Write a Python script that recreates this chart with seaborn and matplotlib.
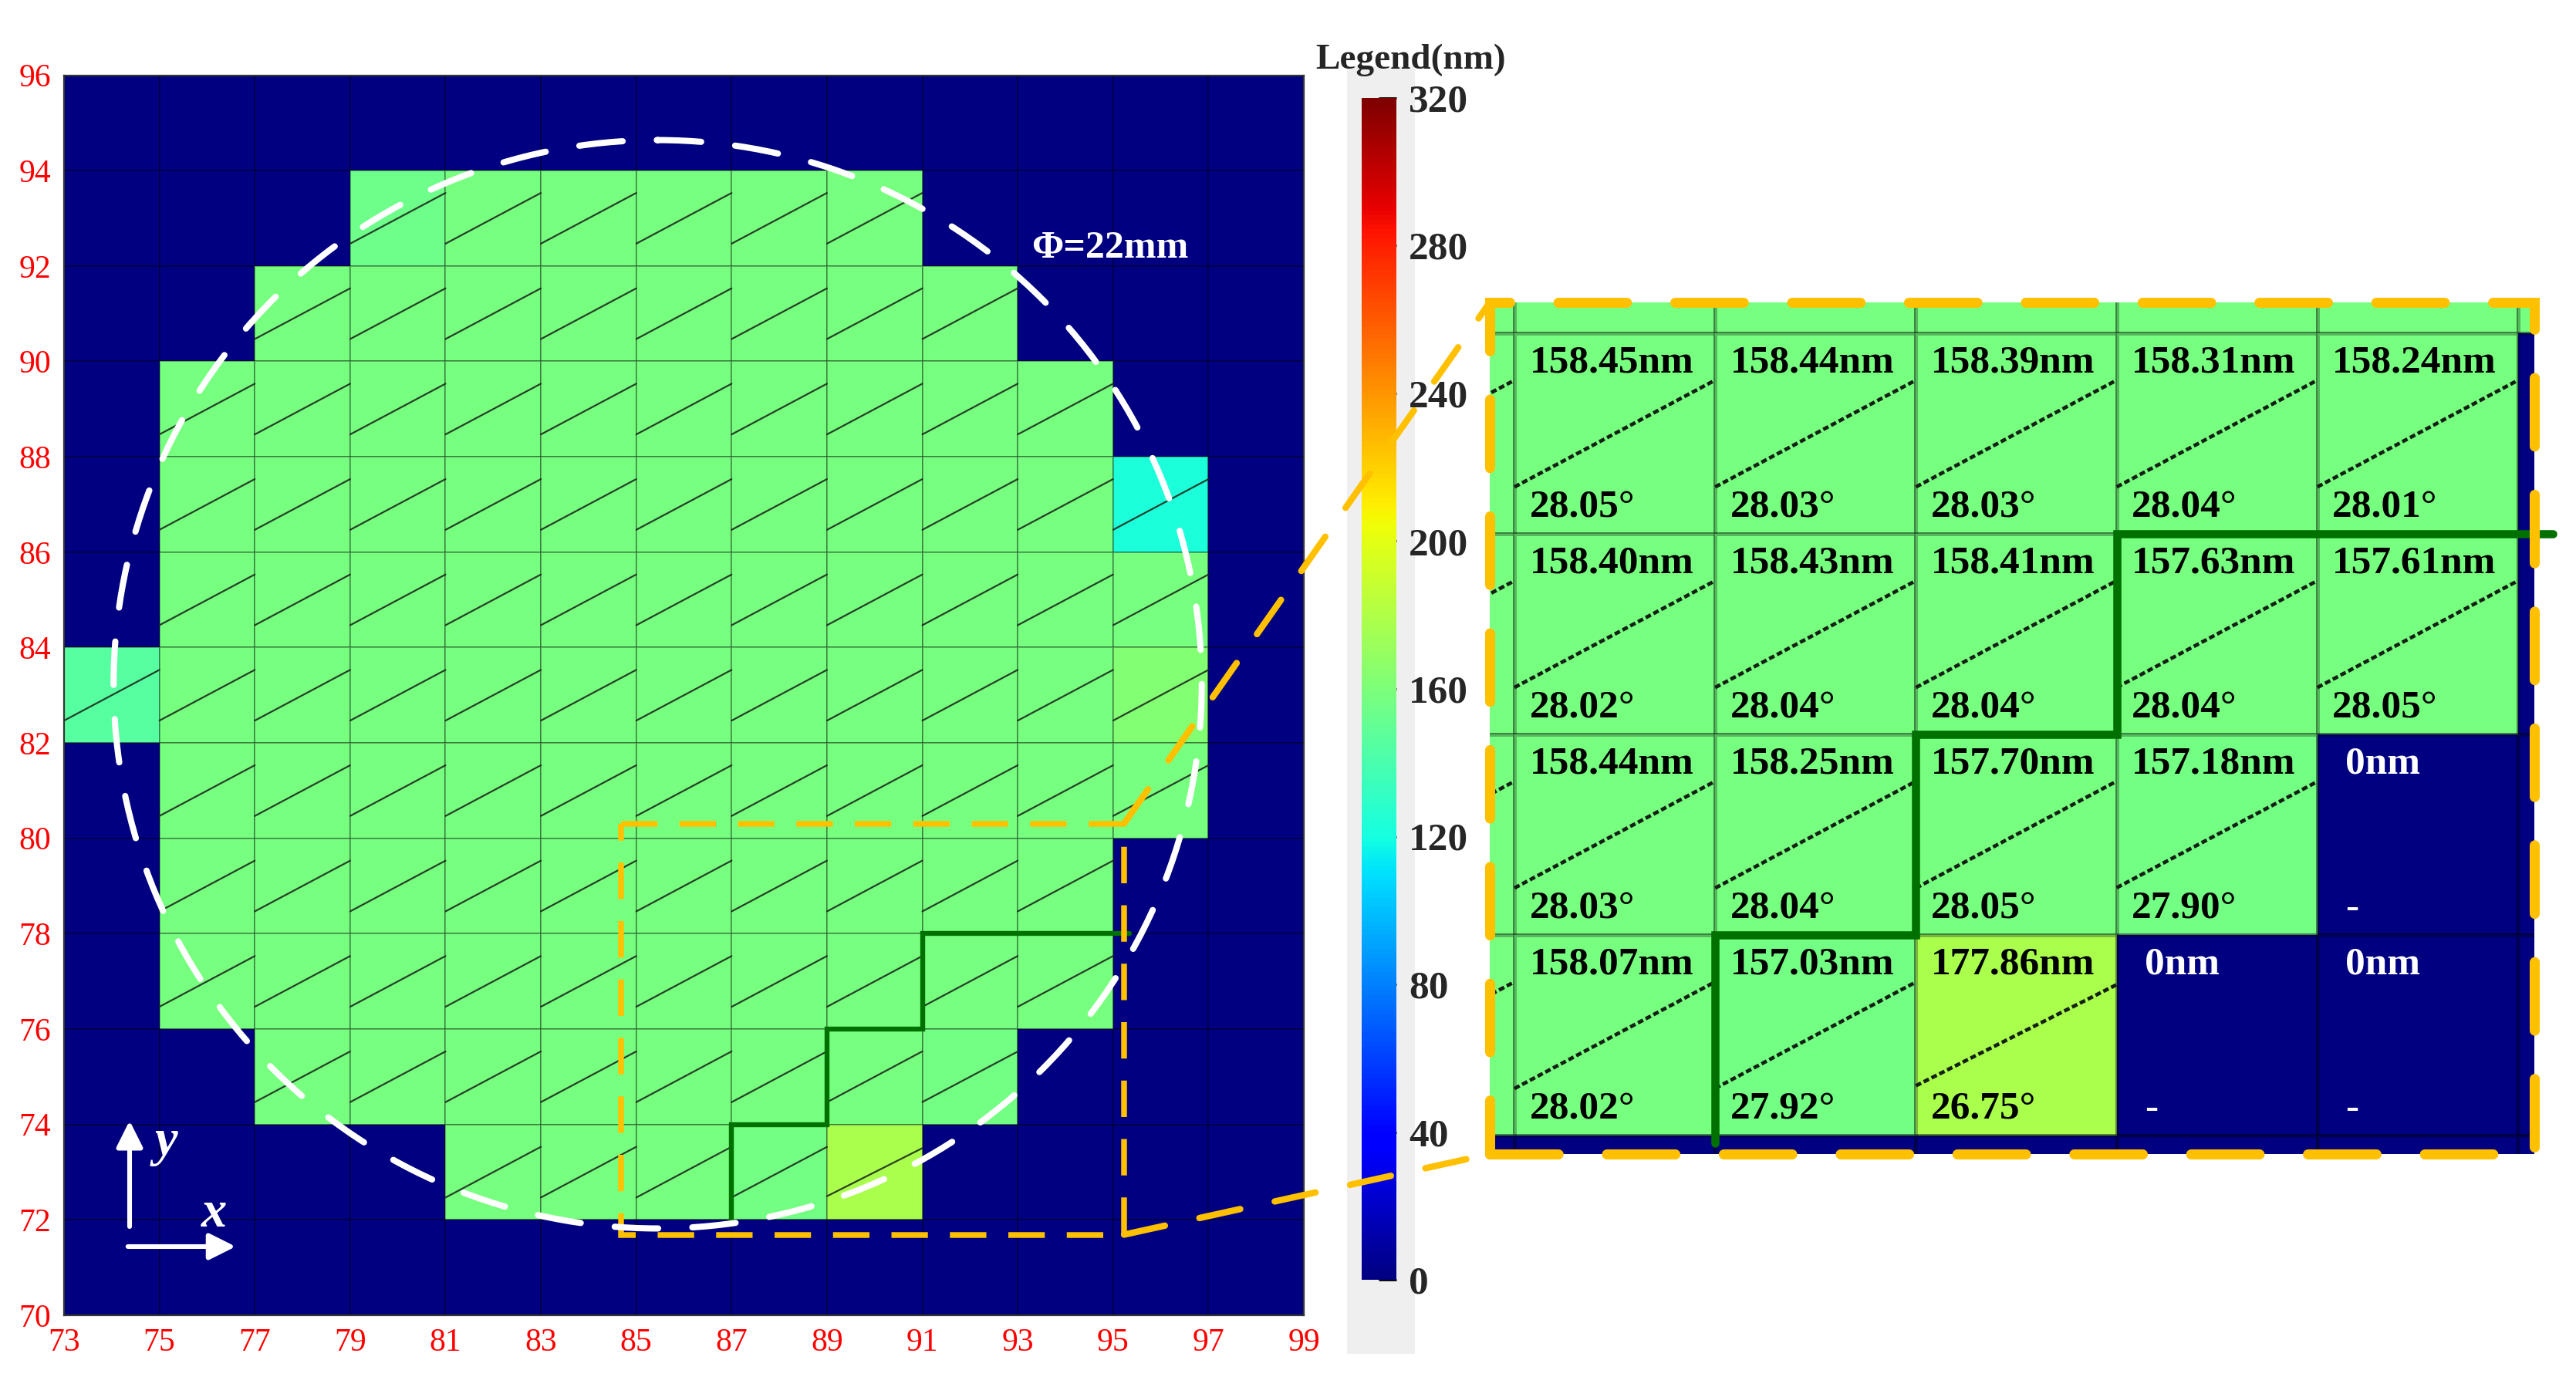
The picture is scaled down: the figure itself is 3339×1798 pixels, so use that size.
import numpy as np
import pandas as pd
import seaborn as sns
import matplotlib.pyplot as plt
from matplotlib.patches import Rectangle, Circle, ConnectionPatch

# ======================
# DATA (mm grid, 2 mm cells)
# ======================

x_ticks = list(range(73, 100, 2))          # 73 ... 99
y_ticks = list(range(70, 97, 2))           # 70 ... 96
x_cells = [74, 76, 78, 80, 82, 84, 86, 88, 90, 92, 94, 96, 98]
y_cells = [95, 93, 91, 89, 87, 85, 83, 81, 79, 77, 75, 73, 71]   # top -> bottom

# film thickness per cell (nm), rows from y=95 down to y=71
thickness_rows = [
    [0, 0, 0, 0, 0, 0, 0, 0, 0, 0, 0, 0, 0],
    [0, 0, 0, 154, 158.4, 158.4, 158.4, 158.4, 158.4, 0, 0, 0, 0],
    [0, 0, 158.4, 158.4, 158.4, 158.4, 158.4, 158.4, 158.4, 158.4, 0, 0, 0],
    [0, 158.4, 158.4, 158.4, 158.4, 158.4, 158.4, 158.4, 158.4, 158.4, 158.4, 0, 0],
    [0, 158.4, 158.4, 158.4, 158.4, 158.4, 158.4, 158.4, 158.4, 158.4, 158.4, 123, 0],
    [0, 158.4, 158.4, 158.4, 158.4, 158.4, 158.4, 158.4, 158.4, 158.4, 158.4, 158.4, 0],
    [145, 158.4, 158.4, 158.4, 158.4, 158.4, 158.4, 158.4, 158.4, 158.4, 158.4, 163, 0],
    [0, 158.4, 158.4, 158.4, 158.4, 158.4, 158.4, 158.4, 158.4, 158.4, 158.4, 158.4, 0],
    [0, 158.4, 158.4, 158.4, 158.4, 158.4, 158.45, 158.44, 158.39, 158.31, 158.24, 0, 0],
    [0, 158.4, 158.4, 158.4, 158.4, 158.4, 158.40, 158.43, 158.41, 157.63, 157.61, 0, 0],
    [0, 0, 158.4, 158.4, 158.4, 158.4, 158.44, 158.25, 157.70, 157.18, 0, 0, 0],
    [0, 0, 0, 0, 158.4, 158.4, 158.07, 157.03, 177.86, 0, 0, 0, 0],
    [0, 0, 0, 0, 0, 0, 0, 0, 0, 0, 0, 0, 0],
]

# zoomed block: cell centres and measured angles (deg)
inset_x = [86, 88, 90, 92, 94]
inset_y = [79, 77, 75, 73]
inset_angles = [
    [28.05, 28.03, 28.03, 28.04, 28.01],
    [28.02, 28.04, 28.04, 28.04, 28.05],
    [28.03, 28.04, 28.05, 27.90, None],
    [28.02, 27.92, 26.75, None, None],
]
other_angle = 28.0

# boundary of the thinner region
boundary_x = [87, 87, 89, 89, 91, 91, 95.35]
boundary_y = [71.92, 74, 74, 76, 76, 78, 78]

# ======================
# HELPERS
# ======================

def hx(x):
    return (np.asarray(x, dtype=float) - x_ticks[0]) / 2


def hy(y):
    return (y_ticks[-1] - np.asarray(y, dtype=float)) / 2


def cell_angle(xc, yc):
    if xc in inset_x and yc in inset_y:
        a = inset_angles[inset_y.index(yc)][inset_x.index(xc)]
        if a is not None:
            return a
    return other_angle


grid = pd.DataFrame(thickness_rows, index=y_cells, columns=x_cells)

sns.set_style("white")
plt.rcParams["font.family"] = ["Liberation Serif", "DejaVu Serif"]

W, H = 3339, 1798
fig = plt.figure(figsize=(W / 200, H / 200), dpi=200)

ax = fig.add_axes([83 / W, 1 - 1705 / H, 1607 / W, 1607.5 / H])
cax = fig.add_axes([1765 / W, 1 - 1659 / H, 45 / W, 1532 / H])
axin = fig.add_axes([1931 / W, 1 - 1496 / H, 1354 / W, 1104 / H])

# grey backing behind the colour bar
fig.add_artist(Rectangle((1746 / W, 1 - 1755 / H), 88 / W, 1669 / H,
                         transform=fig.transFigure, facecolor="#efefef",
                         edgecolor="none", zorder=-1))

# ======================
# MAIN MAP
# ======================

sns.heatmap(grid, ax=ax, cmap="jet", vmin=0, vmax=320, cbar_ax=cax,
            linewidths=0.6, linecolor=(0, 0, 0, 0.3),
            xticklabels=False, yticklabels=False)

ax.set_xticks(hx(x_ticks))
ax.set_xticklabels(x_ticks)
ax.set_yticks(hy(y_ticks))
ax.set_yticklabels(y_ticks)
ax.tick_params(length=0, labelcolor="red", labelsize=15, pad=6)
ax.set_xlabel("")
ax.set_ylabel("")
for sp in ax.spines.values():
    sp.set_visible(True)
    sp.set_color("#333333")
    sp.set_linewidth(0.8)

# slash marks = in-plane angle of each coated cell
for i, yc in enumerate(y_cells):
    for j, xc in enumerate(x_cells):
        if thickness_rows[i][j] == 0:
            continue
        t = np.tan(np.radians(cell_angle(xc, yc)))
        ax.plot(hx([xc - 1, xc + 1]), hy([yc - t, yc + t]),
                color="#1c2b1c", lw=0.8, alpha=0.9, zorder=3)

ax.plot(hx(boundary_x), hy(boundary_y), color="#007000", lw=2.3,
        zorder=4, solid_joinstyle="miter")

ax.add_patch(Rectangle((hx(84.68), hy(80.31)), (95.23 - 84.68) / 2,
                       (80.31 - 71.69) / 2, fill=False, edgecolor="#FFC000",
                       lw=2.7, ls=(0, (6.3, 3.8)), zorder=5))

circ = Circle((hx(85.45), hy(83.23)), 11.41 / 2, fill=False,
              edgecolor="white", lw=2.9, ls=(0, (7, 5.5)), zorder=6)
circ.set_capstyle("round")
ax.add_patch(circ)

ax.text(hx(93.29), hy(92.17), "Φ=22mm", color="white", fontsize=18,
        fontweight="bold", va="baseline", ha="left", zorder=7)

# x / y arrows
arrow_kw = dict(arrowstyle="-|>", color="white", lw=2.2, mutation_scale=26,
                shrinkA=0, shrinkB=0)
ax.annotate("", xy=(hx(74.375), hy(74.08)), xytext=(hx(74.375), hy(71.86)),
            arrowprops=arrow_kw, zorder=7)
ax.annotate("", xy=(hx(76.6), hy(71.44)), xytext=(hx(74.34), hy(71.44)),
            arrowprops=arrow_kw, zorder=7)
ax.text(hx(75.14), hy(73.62), "y", color="white", fontsize=24,
        fontstyle="italic", fontweight="bold", ha="center", va="center")
ax.text(hx(76.14), hy(72.12), "x", color="white", fontsize=24,
        fontstyle="italic", fontweight="bold", ha="center", va="center")

# ======================
# COLOUR BAR
# ======================

cbar = ax.collections[0].colorbar
cbar.set_ticks(list(range(0, 321, 40)))
cbar.outline.set_visible(False)
cbar.solids.set_edgecolor("face")
cax.tick_params(direction="in", length=8.3, width=1.0, color="black",
                labelsize=18.5, pad=5.8, right=True, left=False)
for lab in cax.get_yticklabels():
    lab.set_fontweight("bold")

fig.text(1829 / W, 1 - 89 / H, "Legend(nm)", ha="center", va="baseline",
         fontsize=17, fontweight="bold")

# ======================
# ZOOMED BLOCK
# ======================

sns.heatmap(grid, ax=axin, cmap="jet", vmin=0, vmax=320, cbar=False,
            linewidths=1.8, linecolor=(0, 0, 0, 0.28),
            xticklabels=False, yticklabels=False)
axin.set_xlim(hx(84.754), hx(95.162))
axin.set_ylim(hy(71.815), hy(80.308))
axin.set_xlabel("")
axin.set_ylabel("")
axin.set_xticks([])
axin.set_yticks([])
for sp in axin.spines.values():
    sp.set_visible(False)

for i, yc in enumerate(y_cells):
    for j, xc in enumerate(x_cells):
        if thickness_rows[i][j] == 0:
            continue
        t = np.tan(np.radians(cell_angle(xc, yc)))
        axin.plot(hx([xc - 1, xc + 1]), hy([yc - t, yc + t]),
                  color="#142014", lw=1.7, ls=(0, (1.6, 0.8)), zorder=3)

for r, yc in enumerate(inset_y):
    for c, xc in enumerate(inset_x):
        v = grid.loc[yc, xc]
        a = inset_angles[r][c]
        if v:
            txt, ang, col, dx = f"{v:.2f}nm", f"{a:.2f}°", "black", 0.15
        else:
            txt, ang, col, dx = "0nm", "-", "white", 0.28
        axin.text(hx(xc - 1 + dx), hy(yc + 1 - 0.12), txt, color=col,
                  fontsize=18.5, fontweight="bold", ha="left", va="top")
        axin.text(hx(xc - 1 + dx), hy(yc - 1 + 0.17), ang, color=col,
                  fontsize=18.5, fontweight="bold", ha="left", va="baseline")

axin.plot(hx(boundary_x), hy(boundary_y), color="#007000", lw=3.8,
          zorder=4, clip_on=False, solid_joinstyle="miter")

border = Rectangle((0, 0), 1, 1, transform=axin.transAxes, fill=False,
                   edgecolor="#FFC000", lw=4.7, ls=(0, (6.8, 4.8)),
                   clip_on=False, zorder=10)
border.set_capstyle("round")
axin.add_patch(border)

for yy, ya in [(80.31, 1), (71.69, 0)]:
    con = ConnectionPatch(xyA=(hx(95.23), hy(yy)), coordsA=ax.transData,
                          xyB=(0, ya), coordsB=axin.transAxes,
                          color="#FFC000", lw=3.0, ls=(0, (6.5, 5.5)),
                          zorder=20)
    con.set_capstyle("round")
    fig.add_artist(con)

fig.savefig("out.png", dpi=200)
